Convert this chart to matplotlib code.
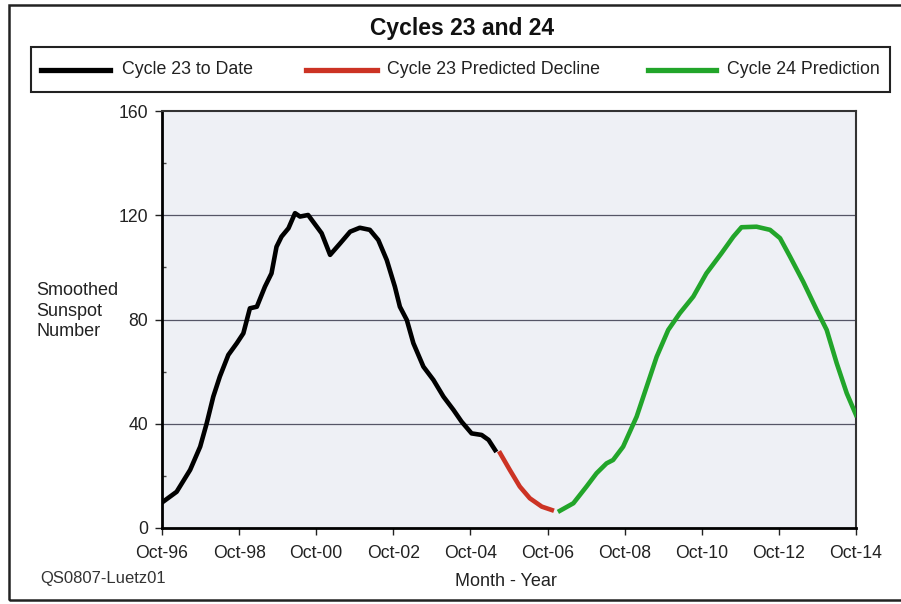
import matplotlib
matplotlib.use('Agg')
import matplotlib.pyplot as plt
from matplotlib.patches import Rectangle
from matplotlib.lines import Line2D
from matplotlib.ticker import MultipleLocator

plt.rcParams['font.family'] = ['Liberation Sans', 'DejaVu Sans']

# years after Oct-96 and smoothed sunspot number
c23_years = [0.03, 0.38, 0.73, 0.99, 1.16, 1.33, 1.50, 1.72, 1.94, 2.11, 2.28, 2.46,
             2.67, 2.84, 2.97, 3.10, 3.28, 3.45, 3.58, 3.79, 3.92, 4.14, 4.36, 4.62,
             4.88, 5.13, 5.39, 5.61, 5.83, 6.04, 6.17, 6.35, 6.52, 6.78, 7.04, 7.30,
             7.56, 7.77, 8.03, 8.29, 8.47, 8.64]
c23_ssn = [10.1, 13.9, 22.3, 31.2, 40.2, 50.4, 58.1, 66.4, 70.9, 74.7, 84.3, 84.9,
           92.6, 97.7, 107.9, 111.8, 115.0, 120.8, 119.5, 120.1, 117.5, 113.1, 104.8, 109.2,
           113.7, 115.2, 114.4, 110.5, 102.8, 92.6, 84.9, 79.8, 70.9, 61.9, 56.8, 50.4,
           45.3, 40.8, 36.3, 35.7, 33.8, 29.9]

decl_years = [8.77, 9.02, 9.28, 9.54, 9.85, 10.11]
decl_ssn = [28.7, 22.3, 15.9, 11.4, 8.2, 6.9]

c24_years = [10.32, 10.67, 11.01, 11.27, 11.53, 11.70, 11.96, 12.31, 12.57, 12.83,
             13.13, 13.43, 13.78, 14.12, 14.51, 14.82, 15.03, 15.42, 15.77, 16.03, 16.29,
             16.63, 16.98, 17.24, 17.50, 17.76, 18.0]
c24_ssn = [6.6, 9.5, 15.9, 21.0, 24.8, 26.1, 31.2, 42.7, 54.2, 65.7,
           76.0, 82.4, 88.8, 97.7, 105.4, 111.8, 115.4, 115.6, 114.4, 111.2, 104.1,
           94.5, 83.7, 76.0, 63.2, 51.7, 43.4]

tick_years = [0, 2, 4, 6, 8, 10, 12, 14, 16, 18]
tick_labels = ['Oct-96', 'Oct-98', 'Oct-00', 'Oct-02', 'Oct-04',
               'Oct-06', 'Oct-08', 'Oct-10', 'Oct-12', 'Oct-14']

series_names = ['Cycle 23 to Date', 'Cycle 23 Predicted Decline', 'Cycle 24 Prediction']
series_colors = ['black', '#cc3324', '#22a52a']

fig = plt.figure(figsize=(9.01, 6.04), dpi=100)
W, H = 901, 604

def fx(px):
    return px / W

def fy(py):
    return 1 - py / H

# outer frame (right edge runs off the picture)
fig.patches.append(Rectangle((fx(9), fy(600)), 1.0, fy(5) - fy(600), transform=fig.transFigure,
                             fill=False, edgecolor='#222222', linewidth=1.8))

fig.text(fx(462), fy(28), 'Cycles 23 and 24', ha='center', va='center',
         fontsize=16.5, fontweight='bold', color='#111111')

# legend box drawn by hand
fig.patches.append(Rectangle((fx(31), fy(92)), fx(890) - fx(31), fy(47) - fy(92),
                             transform=fig.transFigure, fill=False,
                             edgecolor='#222222', linewidth=1.5))
leg_x = [(41, 110, 122), (306, 377, 387), (648, 716, 727)]
for (x0, x1, xt), name, col in zip(leg_x, series_names, series_colors):
    fig.lines.append(Line2D([fx(x0), fx(x1)], [fy(70), fy(70)], transform=fig.transFigure,
                            color=col, linewidth=3.8))
    fig.text(fx(xt), fy(70), name, ha='left', va='center', fontsize=12.8, color='#222222')

ax = fig.add_axes([fx(162), fy(528), fx(856) - fx(162), fy(111) - fy(528)])
ax.set_facecolor('#eef0f5')

for y in [40, 80, 120]:
    ax.axhline(y, color='#555566', linewidth=0.9, zorder=1)

ax.plot(c23_years, c23_ssn, color=series_colors[0], linewidth=3.3, zorder=3)
ax.plot(decl_years, decl_ssn, color=series_colors[1], linewidth=3.3, zorder=3)
ax.plot(c24_years, c24_ssn, color=series_colors[2], linewidth=3.3, zorder=3)

ax.set_xlim(0, 18)
ax.set_ylim(0, 160)
ax.set_xticks(tick_years)
ax.set_xticklabels(tick_labels)
ax.yaxis.set_major_locator(MultipleLocator(40))
ax.yaxis.set_minor_locator(MultipleLocator(20))
ax.tick_params(axis='x', direction='out', length=5, width=1, labelsize=12.7,
               colors='#222222', pad=7)
ax.tick_params(axis='y', which='major', direction='out', length=5, width=1,
               labelsize=12.7, colors='#222222', pad=5)
ax.tick_params(axis='y', which='minor', direction='in', length=3, width=1, colors='#444444')

ax.spines['left'].set_linewidth(2)
ax.spines['bottom'].set_linewidth(2)
ax.spines['top'].set_linewidth(1.5)
ax.spines['right'].set_linewidth(1.5)
for s in ['top', 'right']:
    ax.spines[s].set_color('#333333')

fig.text(fx(36), fy(311), 'Smoothed\nSunspot\nNumber', ha='left', va='center',
         fontsize=13, color='#222222', linespacing=1.27)
fig.text(fx(506), fy(581), 'Month - Year', ha='center', va='center',
         fontsize=13, color='#222222')
fig.text(fx(40), fy(579), 'QS0807-Luetz01', ha='left', va='center',
         fontsize=12, color='#333333')

plt.savefig('out.png', dpi=100)
